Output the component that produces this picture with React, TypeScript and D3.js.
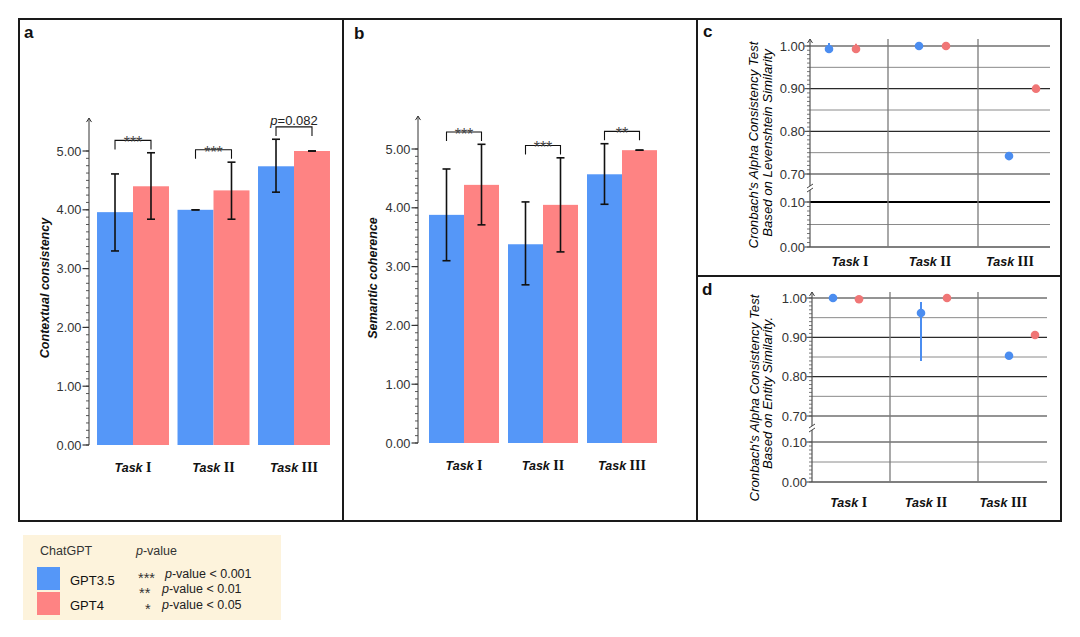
import React, { useEffect, useRef } from "react";
import * as d3 from "d3";

// ---------- data ----------
const tasks = ["I", "II", "III"];
const series = ["GPT3.5", "GPT4"];
const barColors = ["#5597f8", "#fe8383"];
const dotColors = ["#4b8df0", "#f07676"];

// panel a: contextual consistency
const aMean35 = [3.96, 4.0, 4.74];
const aMean4 = [4.4, 4.33, 5.0];
const aLow35 = [3.3, 4.0, 4.3];
const aHigh35 = [4.61, 4.0, 5.2];
const aLow4 = [3.84, 3.84, 5.0];
const aHigh4 = [4.97, 4.81, 5.0];
const aSig = ["***", "***", "p=0.082"];

// panel b: semantic coherence
const bMean35 = [3.88, 3.38, 4.57];
const bMean4 = [4.39, 4.05, 4.98];
const bLow35 = [3.1, 2.69, 4.06];
const bHigh35 = [4.66, 4.1, 5.09];
const bLow4 = [3.71, 3.25, 4.98];
const bHigh4 = [5.08, 4.85, 4.98];
const bSig = ["***", "***", "**"];

const barTicks = [0, 1, 2, 3, 4, 5];

// panel c: Cronbach's alpha, Levenshtein similarity
const cAlpha35 = [0.993, 1.0, 0.742];
const cAlpha4 = [0.993, 1.0, 0.9];
const cLow35 = [0.993, 1.0, 0.742];
const cHigh35 = [1.007, 1.0, 0.742];
const cLow4 = [0.993, 1.0, 0.9];
const cHigh4 = [1.005, 1.0, 0.9];

// panel d: Cronbach's alpha, entity similarity
const dAlpha35 = [1.0, 0.962, 0.853];
const dAlpha4 = [0.997, 1.0, 0.906];
const dLow35 = [1.0, 0.84, 0.853];
const dHigh35 = [1.0, 0.99, 0.853];
const dLow4 = [0.997, 1.0, 0.906];
const dHigh4 = [0.997, 1.0, 0.906];

const alphaUpperTicks = [0.7, 0.8, 0.9, 1.0];
const alphaLowerTicks = [0.0, 0.1];
const alphaGridMajor = [1.0, 0.9, 0.8, 0.7, 0.1];
const alphaGridMinor = [0.95, 0.85, 0.75, 0.05];

const legendSig = ["***", "**", "*"];
const legendThresh = ["0.001", "0.01", "0.05"];

const SANS = "'Liberation Sans', Arial, sans-serif";
const SERIF = "'Liberation Serif', 'Times New Roman', serif";

type Sel = d3.Selection<any, any, any, any>;

function taskLabel(g: Sel, x: number, y: number, t: string) {
  const tx = g
    .append("text")
    .attr("x", x)
    .attr("y", y)
    .attr("text-anchor", "middle")
    .attr("fill", "#111");
  tx.append("tspan")
    .attr("font-family", SANS)
    .attr("font-style", "italic")
    .attr("font-weight", "bold")
    .attr("font-size", 12.5)
    .text("Task ");
  tx.append("tspan")
    .attr("font-family", SERIF)
    .attr("font-weight", "bold")
    .attr("font-size", 14)
    .text(t);
}

function upArrow(g: Sel, x: number, y: number, color: string) {
  g.append("path")
    .attr("d", `M${x - 2.5},${y + 4} L${x},${y} L${x + 2.5},${y + 4}`)
    .attr("fill", "none")
    .attr("stroke", color)
    .attr("stroke-width", 1);
}

interface BarOpts {
  axisX: number;
  zeroY: number;
  fiveY: number;
  bandStart: number;
  step: number;
  pad: number;
  mean35: number[];
  mean4: number[];
  low35: number[];
  high35: number[];
  low4: number[];
  high4: number[];
  sig: string[];
  title: string;
  titleX: number;
  titleY: number;
  labelY: number;
}

function barPanel(svg: Sel, o: BarOpts) {
  const g = svg.append("g");
  const y = d3.scaleLinear().domain([0, 5]).range([o.zeroY, o.fiveY]);
  const x = d3
    .scaleBand<string>()
    .domain(tasks)
    .range([o.bandStart, o.bandStart + 3 * o.step])
    .paddingInner(o.pad)
    .paddingOuter(o.pad / 2);
  const xs = d3.scaleBand<string>().domain(series).range([0, x.bandwidth()]);
  const means = [o.mean35, o.mean4];
  const lows = [o.low35, o.low4];
  const highs = [o.high35, o.high4];

  // bars
  series.forEach((s, si) => {
    g.selectAll(null)
      .data(tasks)
      .enter()
      .append("rect")
      .attr("x", (t) => x(t)! + xs(s)!)
      .attr("width", xs.bandwidth())
      .attr("y", (t, i) => y(means[si][i]))
      .attr("height", (t, i) => y(0) - y(means[si][i]))
      .attr("fill", barColors[si]);
  });

  // error bars
  series.forEach((s, si) => {
    tasks.forEach((t, i) => {
      const cx = x(t)! + xs(s)! + xs.bandwidth() / 2;
      const y1 = y(lows[si][i]);
      const y2 = y(highs[si][i]);
      g.append("line")
        .attr("x1", cx)
        .attr("x2", cx)
        .attr("y1", y1)
        .attr("y2", y2)
        .attr("stroke", "#111")
        .attr("stroke-width", 1.6);
      [y1, y2].forEach((yy) =>
        g
          .append("line")
          .attr("x1", cx - 4)
          .attr("x2", cx + 4)
          .attr("y1", yy)
          .attr("y2", yy)
          .attr("stroke", "#111")
          .attr("stroke-width", 1.6)
      );
    });
  });

  // significance brackets
  tasks.forEach((t, i) => {
    const top = Math.max(o.high35[i], o.high4[i], o.mean35[i], o.mean4[i]) + 0.21;
    const yb = y(top);
    const x1 = x(t)! + xs("GPT3.5")! + xs.bandwidth() / 2;
    const x2 = x(t)! + xs("GPT4")! + xs.bandwidth() / 2;
    g.append("path")
      .attr("d", `M${x1},${yb + 9} V${yb} H${x2} V${yb + 9}`)
      .attr("fill", "none")
      .attr("stroke", "#111")
      .attr("stroke-width", 1.1);
    const lab = o.sig[i];
    if (lab.startsWith("p=")) {
      const tx = g
        .append("text")
        .attr("x", (x1 + x2) / 2)
        .attr("y", yb - 1.5)
        .attr("text-anchor", "middle")
        .attr("font-family", SANS)
        .attr("font-size", 13)
        .attr("fill", "#222");
      tx.append("tspan").attr("font-style", "italic").text("p");
      tx.append("tspan").text(lab.slice(1));
    } else {
      g.append("text")
        .attr("x", (x1 + x2) / 2)
        .attr("y", yb + 8)
        .attr("text-anchor", "middle")
        .attr("font-family", SANS)
        .attr("font-size", 16)
        .attr("fill", "#444")
        .text(lab);
    }
  });

  // y axis
  const ax = o.axisX;
  const arrowTop = y(5.56);
  g.append("line")
    .attr("x1", ax)
    .attr("x2", ax)
    .attr("y1", y(0))
    .attr("y2", arrowTop)
    .attr("stroke", "#333")
    .attr("stroke-width", 1);
  upArrow(g, ax, arrowTop, "#333");
  g.selectAll(null)
    .data(d3.range(0, 5.0001, 0.125))
    .enter()
    .append("line")
    .attr("x1", ax - 3)
    .attr("x2", ax)
    .attr("y1", (d) => y(d))
    .attr("y2", (d) => y(d))
    .attr("stroke", "#444")
    .attr("stroke-width", 0.9);
  g.selectAll(null)
    .data(barTicks)
    .enter()
    .append("line")
    .attr("x1", ax - 6.5)
    .attr("x2", ax)
    .attr("y1", (d) => y(d))
    .attr("y2", (d) => y(d))
    .attr("stroke", "#333")
    .attr("stroke-width", 1.2);
  g.selectAll(null)
    .data(barTicks)
    .enter()
    .append("text")
    .attr("x", ax - 7.5)
    .attr("y", (d) => y(d))
    .attr("dy", "0.36em")
    .attr("text-anchor", "end")
    .attr("font-family", SANS)
    .attr("font-size", 12.8)
    .attr("fill", "#333")
    .text((d) => d3.format(".2f")(d));

  // axis title
  g.append("text")
    .attr("transform", `translate(${o.titleX},${o.titleY}) rotate(-90)`)
    .attr("text-anchor", "middle")
    .attr("font-family", SANS)
    .attr("font-style", "italic")
    .attr("font-weight", "bold")
    .attr("font-size", 12.5)
    .attr("fill", "#111")
    .text(o.title);

  // task labels
  tasks.forEach((t) => taskLabel(g, x(t)! + x.bandwidth() / 2, o.labelY, t));
}

interface AlphaOpts {
  axisX: number;
  rightX: number;
  upperTop: number;
  upperBottom: number;
  lowerTop: number;
  lowerBottom: number;
  arrowY: number;
  breakY: number;
  groupStart: number;
  groupStep: number;
  dotOffsets: [number, number];
  labelRange: [number, number];
  labelY: number;
  v35: number[];
  v4: number[];
  low35: number[];
  high35: number[];
  low4: number[];
  high4: number[];
  title1: string;
  title2: string;
  t1X: number;
  t1Y: number;
  t2X: number;
  t2Y: number;
  strongLower: boolean;
}

function alphaPanel(svg: Sel, o: AlphaOpts) {
  const g = svg.append("g");
  const yU = d3.scaleLinear().domain([0.7, 1.0]).range([o.upperBottom, o.upperTop]);
  const yL = d3.scaleLinear().domain([0, 0.1]).range([o.lowerBottom, o.lowerTop]);
  const yv = (v: number) => (v >= 0.4 ? yU(v) : yL(v));
  const xg = d3
    .scaleBand<string>()
    .domain(tasks)
    .range([o.groupStart, o.groupStart + 3 * o.groupStep]);
  const xp = d3.scalePoint<string>().domain(series).range(o.dotOffsets);
  const xl = d3.scaleBand<string>().domain(tasks).range(o.labelRange);

  // minor gridlines
  g.selectAll(null)
    .data(alphaGridMinor)
    .enter()
    .append("line")
    .attr("x1", o.axisX)
    .attr("x2", o.rightX)
    .attr("y1", (d) => yv(d))
    .attr("y2", (d) => yv(d))
    .attr("stroke", "#8a8a8a")
    .attr("stroke-width", 1);
  // major gridlines
  g.selectAll(null)
    .data(alphaGridMajor)
    .enter()
    .append("line")
    .attr("x1", o.axisX)
    .attr("x2", o.rightX)
    .attr("y1", (d) => yv(d))
    .attr("y2", (d) => yv(d))
    .attr("stroke", (d) => (d === 0.1 && o.strongLower ? "#000" : "#2a2a2a"))
    .attr("stroke-width", (d) => (d === 0.1 && o.strongLower ? 2 : 1.2));
  // baseline
  g.append("line")
    .attr("x1", o.axisX)
    .attr("x2", o.rightX)
    .attr("y1", yL(0))
    .attr("y2", yL(0))
    .attr("stroke", "#555")
    .attr("stroke-width", 1.3);

  // group separators
  tasks.slice(1).forEach((t) => {
    const sx = xg(t)!;
    g.append("line")
      .attr("x1", sx)
      .attr("x2", sx)
      .attr("y1", o.arrowY)
      .attr("y2", yL(0))
      .attr("stroke", "#7a7a7a")
      .attr("stroke-width", 1.3);
  });

  // axis
  const ax = o.axisX;
  g.append("line")
    .attr("x1", ax)
    .attr("x2", ax)
    .attr("y1", yL(0))
    .attr("y2", o.arrowY)
    .attr("stroke", "#555")
    .attr("stroke-width", 1.2);
  upArrow(g, ax, o.arrowY, "#444");
  const minorU = d3.range(0.7, 1.0001, 0.01);
  const minorL = d3.range(0, 0.1001, 0.01);
  g.selectAll(null)
    .data([...minorU.map(yU), ...minorL.map(yL)])
    .enter()
    .append("line")
    .attr("x1", ax - 3)
    .attr("x2", ax)
    .attr("y1", (d) => d)
    .attr("y2", (d) => d)
    .attr("stroke", "#555")
    .attr("stroke-width", 0.8);
  const majors = [
    ...alphaUpperTicks.map((v) => ({ v, y: yU(v) })),
    ...alphaLowerTicks.map((v) => ({ v, y: yL(v) })),
  ];
  g.selectAll(null)
    .data(majors)
    .enter()
    .append("line")
    .attr("x1", ax - 5.5)
    .attr("x2", ax)
    .attr("y1", (d) => d.y)
    .attr("y2", (d) => d.y)
    .attr("stroke", "#444")
    .attr("stroke-width", 1.1);
  g.selectAll(null)
    .data(majors)
    .enter()
    .append("text")
    .attr("x", ax - 5)
    .attr("y", (d) => d.y)
    .attr("dy", "0.36em")
    .attr("text-anchor", "end")
    .attr("font-family", SANS)
    .attr("font-size", 13)
    .attr("fill", "#333")
    .text((d) => d3.format(".2f")(d.v));

  // axis break marker
  g.append("rect")
    .attr("x", ax - 1.5)
    .attr("y", o.breakY - 2)
    .attr("width", 3)
    .attr("height", 4)
    .attr("fill", "#fff");
  [-2, 2].forEach((dy) =>
    g
      .append("line")
      .attr("x1", ax - 3)
      .attr("x2", ax + 3)
      .attr("y1", o.breakY + dy + 2)
      .attr("y2", o.breakY + dy - 2)
      .attr("stroke", "#444")
      .attr("stroke-width", 1)
  );

  // points with error bars
  const vals = [o.v35, o.v4];
  const lows = [o.low35, o.low4];
  const highs = [o.high35, o.high4];
  series.forEach((s, si) => {
    tasks.forEach((t, i) => {
      const cx = xg(t)! + xp(s)!;
      if (highs[si][i] !== lows[si][i]) {
        g.append("line")
          .attr("x1", cx)
          .attr("x2", cx)
          .attr("y1", yv(lows[si][i]))
          .attr("y2", yv(highs[si][i]))
          .attr("stroke", dotColors[si])
          .attr("stroke-width", 2);
      }
      g.append("circle")
        .attr("cx", cx)
        .attr("cy", yv(vals[si][i]))
        .attr("r", 4.3)
        .attr("fill", dotColors[si]);
    });
  });

  // titles
  [
    [o.title1, o.t1X, o.t1Y],
    [o.title2, o.t2X, o.t2Y],
  ].forEach(([txt, tx, ty]) => {
    g.append("text")
      .attr("transform", `translate(${tx},${ty}) rotate(-90)`)
      .attr("text-anchor", "middle")
      .attr("font-family", SANS)
      .attr("font-style", "italic")
      .attr("font-size", 13.2)
      .attr("fill", "#000")
      .text(txt as string);
  });

  tasks.forEach((t) => taskLabel(g, xl(t)! + xl.bandwidth() / 2, o.labelY, t));
}

function draw(svg: Sel) {
  svg.append("rect").attr("width", 1080).attr("height", 637).attr("fill", "#fff");

  barPanel(svg, {
    axisX: 89,
    zeroY: 445,
    fiveY: 151,
    bandStart: 92.75,
    step: 80.5,
    pad: 0.106,
    mean35: aMean35,
    mean4: aMean4,
    low35: aLow35,
    high35: aHigh35,
    low4: aLow4,
    high4: aHigh4,
    sig: aSig,
    title: "Contextual consistency",
    titleX: 49,
    titleY: 288,
    labelY: 472,
  });

  barPanel(svg, {
    axisX: 418,
    zeroY: 443,
    fiveY: 149,
    bandStart: 424.5,
    step: 79,
    pad: 0.114,
    mean35: bMean35,
    mean4: bMean4,
    low35: bLow35,
    high35: bHigh35,
    low4: bLow4,
    high4: bHigh4,
    sig: bSig,
    title: "Semantic coherence",
    titleX: 377,
    titleY: 278,
    labelY: 470,
  });

  alphaPanel(svg, {
    axisX: 810,
    rightX: 1050,
    upperTop: 46,
    upperBottom: 174,
    lowerTop: 202,
    lowerBottom: 247,
    arrowY: 39,
    breakY: 188,
    groupStart: 798,
    groupStep: 90,
    dotOffsets: [31, 58],
    labelRange: [810, 1050],
    labelY: 266,
    v35: cAlpha35,
    v4: cAlpha4,
    low35: cLow35,
    high35: cHigh35,
    low4: cLow4,
    high4: cHigh4,
    title1: "Cronbach's Alpha Consistency Test",
    title2: "Based on Levenshtein Similarity",
    t1X: 758,
    t1Y: 145,
    t2X: 772,
    t2Y: 143,
    strongLower: true,
  });

  alphaPanel(svg, {
    axisX: 812,
    rightX: 1047,
    upperTop: 298,
    upperBottom: 416,
    lowerTop: 442,
    lowerBottom: 482,
    arrowY: 292,
    breakY: 428,
    groupStart: 802,
    groupStep: 88,
    dotOffsets: [31, 57],
    labelRange: [810, 1042],
    labelY: 507,
    v35: dAlpha35,
    v4: dAlpha4,
    low35: dLow35,
    high35: dHigh35,
    low4: dLow4,
    high4: dHigh4,
    title1: "Cronbach's Alpha Consistency Test",
    title2: "Based on Entity Similarity.",
    t1X: 759,
    t1Y: 398,
    t2X: 772,
    t2Y: 393,
    strongLower: false,
  });

  // panel frames
  const frames = [
    [19, 19, 324, 502],
    [343, 19, 354, 502],
    [697, 19, 364, 257],
    [697, 276, 364, 245],
  ];
  svg
    .selectAll(null)
    .data(frames)
    .enter()
    .append("rect")
    .attr("x", (d) => d[0])
    .attr("y", (d) => d[1])
    .attr("width", (d) => d[2])
    .attr("height", (d) => d[3])
    .attr("fill", "none")
    .attr("stroke", "#1a1a1a")
    .attr("stroke-width", 2);

  // panel letters
  const letters: [string, number, number][] = [
    ["a", 24, 38],
    ["b", 354, 39],
    ["c", 703, 37],
    ["d", 702, 295],
  ];
  letters.forEach(([l, x, y]) =>
    svg
      .append("text")
      .attr("x", x)
      .attr("y", y)
      .attr("font-family", SANS)
      .attr("font-weight", "bold")
      .attr("font-size", 17)
      .attr("fill", "#111")
      .text(l)
  );

  // legend
  const lg = svg.append("g");
  lg.append("rect")
    .attr("x", 23)
    .attr("y", 535)
    .attr("width", 258)
    .attr("height", 85)
    .attr("fill", "#fdf3dc");
  lg.append("text")
    .attr("x", 40)
    .attr("y", 555)
    .attr("font-family", SANS)
    .attr("font-size", 12.5)
    .attr("fill", "#333")
    .text("ChatGPT");
  const ph = lg
    .append("text")
    .attr("x", 136)
    .attr("y", 555)
    .attr("font-family", SANS)
    .attr("font-size", 12.5)
    .attr("fill", "#333");
  ph.append("tspan").attr("font-style", "italic").text("p");
  ph.append("tspan").text("-value");
  series.forEach((s, i) => {
    lg.append("rect")
      .attr("x", 37)
      .attr("y", 567 + i * 25)
      .attr("width", 23)
      .attr("height", 23)
      .attr("fill", barColors[i]);
    lg.append("text")
      .attr("x", 70)
      .attr("y", 585 + i * 25)
      .attr("font-family", SANS)
      .attr("font-size", 13)
      .attr("fill", "#111")
      .text(s);
  });
  legendSig.forEach((s, i) => {
    const by = [578, 593, 609][i];
    lg.append("text")
      .attr("x", [138, 139, 145][i])
      .attr("y", by + 4.5)
      .attr("font-family", SANS)
      .attr("font-size", 14.5)
      .attr("fill", "#333")
      .text(s);
    const t = lg
      .append("text")
      .attr("x", i === 0 ? 165 : 162)
      .attr("y", by)
      .attr("font-family", SANS)
      .attr("font-size", 12.5)
      .attr("fill", "#222");
    t.append("tspan").attr("font-style", "italic").text("p");
    t.append("tspan").text(`-value < ${legendThresh[i]}`);
  });
}

export default function App() {
  const ref = useRef<SVGSVGElement>(null);
  useEffect(() => {
    const svg = d3.select(ref.current);
    svg.selectAll("*").remove();
    draw(svg as any);
  }, []);
  return (
    <svg
      ref={ref}
      width={1080}
      height={637}
      style={{ position: "absolute", left: 0, top: 0, display: "block" }}
    />
  );
}
